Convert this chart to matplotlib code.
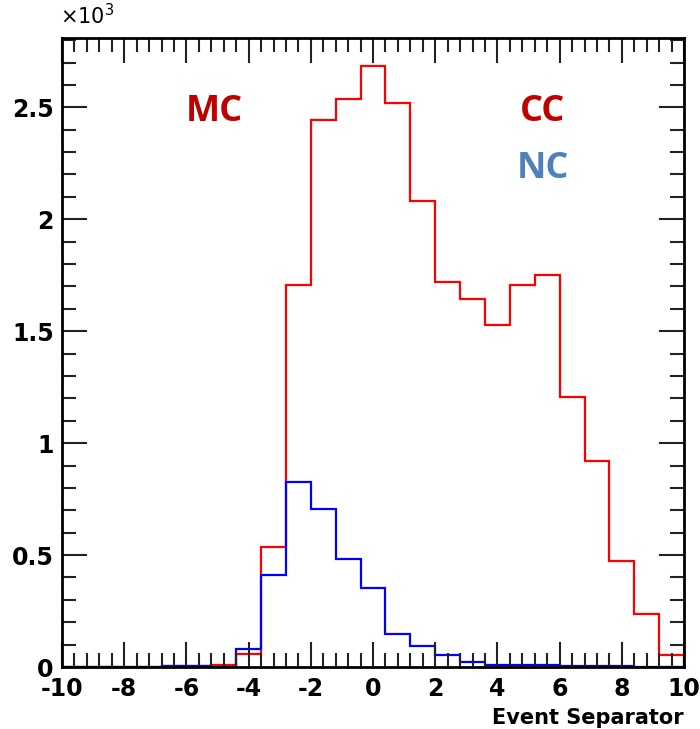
import numpy as np
import matplotlib
matplotlib.use("Agg")
import matplotlib.pyplot as plt
from matplotlib.ticker import MultipleLocator, FuncFormatter

plt.rcParams['axes.unicode_minus'] = False

# histogram bins: 25 bins of width 0.8 from -10 to 10
bin_edges = np.linspace(-10, 10, 26)

# counts
cc_counts = [0, 0, 0, 0, 4, 4, 8, 58, 536, 1705, 2442, 2536, 2683, 2518,
             2080, 1719, 1643, 1527, 1705, 1750, 1205, 920, 473, 237, 54]
nc_counts = [0, 0, 0, 0, 6, 6, 2, 80, 411, 826, 705, 482, 352, 147,
             94, 54, 22, 11, 10, 9, 4, 4, 4, 0, 0]

fig = plt.figure(figsize=(7, 7.29), dpi=100, facecolor='white')
ax = fig.add_axes([0.0886, 0.085, 0.8886, 0.863])

ax.stairs(cc_counts, bin_edges, color='#FF0000', linewidth=1.6)
ax.stairs(nc_counts, bin_edges, color='#0000FF', linewidth=1.6)

ax.set_xlim(-10, 10)
ax.set_ylim(0, 2810)

ax.xaxis.set_major_locator(MultipleLocator(2))
ax.xaxis.set_minor_locator(MultipleLocator(0.4))
ax.yaxis.set_major_locator(MultipleLocator(500))
ax.yaxis.set_minor_locator(MultipleLocator(100))
ax.yaxis.set_major_formatter(FuncFormatter(lambda v, p: '0' if v == 0 else '%g' % (v / 1000)))

ax.tick_params(which='both', direction='in', top=True, right=True, width=1.5, color='#222222')
ax.tick_params(which='major', length=18)
ax.tick_params(which='minor', length=10)
ax.tick_params(axis='x', labelsize=17, pad=7)
ax.tick_params(axis='y', labelsize=17, pad=6)
for lab in ax.get_xticklabels() + ax.get_yticklabels():
    lab.set_fontfamily('DejaVu Sans')
    lab.set_fontweight('bold')
for s in ax.spines.values():
    s.set_linewidth(2)

fig.text(0.977, 0.002, 'Event Separator', ha='right', va='bottom',
         fontsize=15, fontweight='bold', family='DejaVu Sans')
fig.text(0.086, 0.996, r'$\times$10$^3$', ha='left', va='top', fontsize=15,
         family='DejaVu Sans')

ax.text(-5.1, 2480, 'MC', color='#C00000', fontsize=26, fontweight='bold',
        family='Open Sans', ha='center', va='center')
ax.text(5.45, 2480, 'CC', color='#C00000', fontsize=26, fontweight='bold',
        family='Open Sans', ha='center', va='center')
ax.text(5.45, 2225, 'NC', color='#4F81BD', fontsize=26, fontweight='bold',
        family='Open Sans', ha='center', va='center')

fig.savefig('out.png', dpi=100, facecolor='white')
